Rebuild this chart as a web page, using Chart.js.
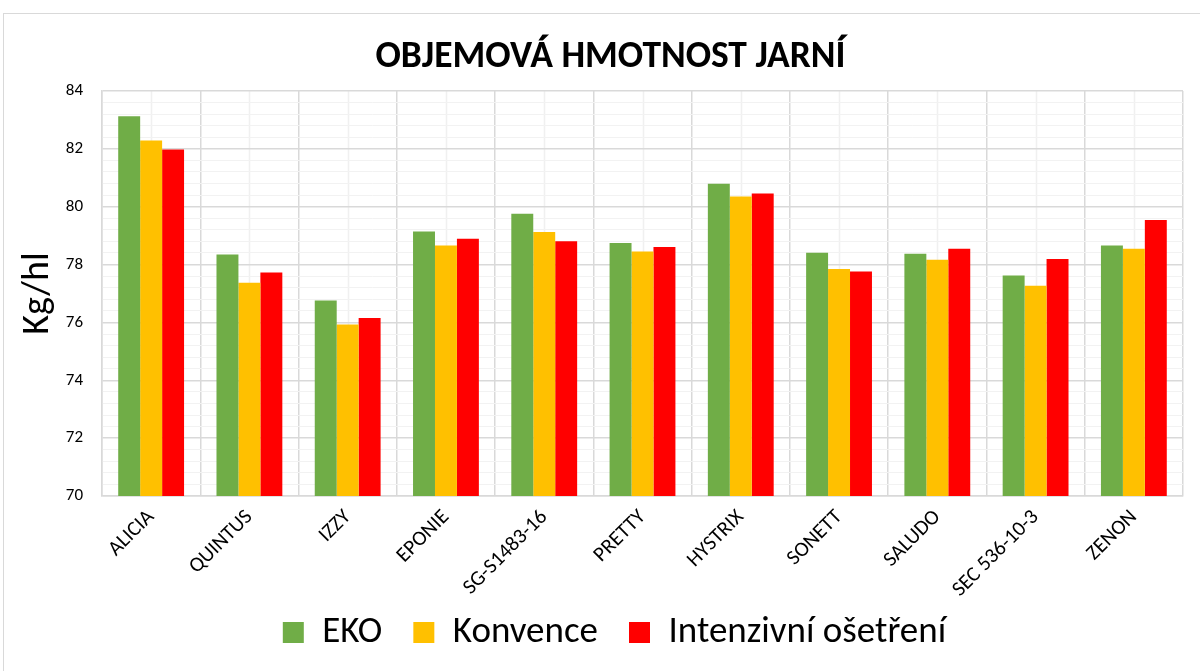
<!DOCTYPE html>
<html>
<head>
<meta charset="utf-8">
<script src="https://cdn.jsdelivr.net/npm/chart.js@4/dist/chart.umd.min.js"></script>
<style>
    html, body { margin: 0; padding: 0; background: #fff; }
    #box {
        position: absolute; left: 3px; top: 13px;
        width: 1197px; height: 658px;
        border-top: 1px solid #d9d9d9; border-left: 1px solid #d9d9d9;
        box-sizing: border-box;
    }
</style>
</head>
<body>
<div id="box"><canvas id="chart"></canvas></div>
<script>
const FONT = "Carlito, Lato, 'Open Sans', sans-serif";

const categories = ["ALICIA", "QUINTUS", "IZZY", "EPONIE", "SG-S1483-16", "PRETTY", "HYSTRIX", "SONETT", "SALUDO", "SEC 536-10-3", "ZENON"];
const eko        = [83.13, 78.35, 76.76, 79.14, 79.76, 78.75, 80.79, 78.41, 78.37, 77.62, 78.66];
const konvence   = [82.29, 77.37, 75.93, 78.66, 79.13, 78.45, 80.35, 77.85, 78.17, 77.27, 78.55];
const intenzivni = [81.98, 77.73, 76.15, 78.89, 78.81, 78.61, 80.46, 77.76, 78.55, 78.19, 79.54];
const yMin = 70, yMax = 84, yMajor = 2, yMinor = 0.4;

function isMajor(v) {
    return Math.abs(v / yMajor - Math.round(v / yMajor)) < 1e-6;
}

// light lines through the middle of each category, under the main grid
const minorXGrid = {
    id: "minorXGrid",
    beforeDraw(chart) {
        const x = chart.scales.x, a = chart.chartArea, ctx = chart.ctx;
        ctx.save();
        ctx.strokeStyle = "#f0f0f0";
        ctx.lineWidth = 1.5;
        categories.forEach((c, i) => {
            const px = Math.round(x.getPixelForValue(i)) + 0.5;
            ctx.beginPath();
            ctx.moveTo(px, a.top);
            ctx.lineTo(px, a.bottom);
            ctx.stroke();
        });
        ctx.restore();
    }
};

// nudge title/legend right like the original, and let the long
// rotated x labels hang below their box instead of being clipped
const layoutTweaks = {
    id: "layoutTweaks",
    afterLayout(chart) {
        chart.legend.left += 15;
        chart.legend.right += 15;
        chart.titleBlock.left += 11;
        chart.titleBlock.right += 11;
        chart.scales.x.bottom += 40;
    }
};

new Chart(document.getElementById("chart"), {
    type: "bar",
    data: {
        labels: categories,
        datasets: [
            { label: "EKO", data: eko, backgroundColor: "#70ad47" },
            { label: "Konvence", data: konvence, backgroundColor: "#ffc000" },
            { label: "Intenzivní ošetření", data: intenzivni, backgroundColor: "#ff0000" }
        ]
    },
    options: {
        responsive: true,
        maintainAspectRatio: false,
        animation: false,
        events: [],
        layout: { padding: { left: 12, right: 17, top: 20, bottom: 10 } },
        datasets: { bar: { categoryPercentage: 0.67, barPercentage: 1.0 } },
        scales: {
            x: {
                grid: { color: "#d9d9d9", lineWidth: 1.5, drawTicks: false },
                border: { color: "#d9d9d9", width: 1.5 },
                ticks: {
                    color: "#000", font: { family: FONT, size: 21 },
                    minRotation: 45, maxRotation: 45, padding: 9, autoSkip: false
                },
                afterFit(scale) { scale.height = 87; }
            },
            y: {
                min: yMin, max: yMax,
                grid: {
                    drawTicks: false,
                    color: ctx => isMajor(ctx.tick.value) ? "#d9d9d9" : "#f2f2f2",
                    lineWidth: ctx => isMajor(ctx.tick.value) ? 1.5 : 1
                },
                border: { color: "#d9d9d9", width: 1.5 },
                ticks: {
                    stepSize: yMinor, autoSkip: false, padding: 19,
                    color: "#000", font: { family: FONT, size: 17 },
                    callback: v => isMajor(v) ? Math.round(v) : ""
                },
                title: {
                    display: true, text: "Kg/hl", color: "#000",
                    font: { family: FONT, size: 38 }, padding: 0
                },
                afterFit(scale) { scale.width = 86; }
            }
        },
        plugins: {
            title: {
                display: true, text: "OBJEMOVÁ HMOTNOST JARNÍ", color: "#000",
                font: { family: FONT, size: 37.5, weight: "bold" },
                padding: { top: 1, bottom: 11 }
            },
            legend: {
                position: "bottom",
                labels: {
                    color: "#000", font: { family: FONT, size: 37 },
                    boxWidth: 21, boxHeight: 21, padding: 31
                }
            },
            tooltip: { enabled: false }
        }
    },
    plugins: [minorXGrid, layoutTweaks]
});
</script>
</body>
</html>
